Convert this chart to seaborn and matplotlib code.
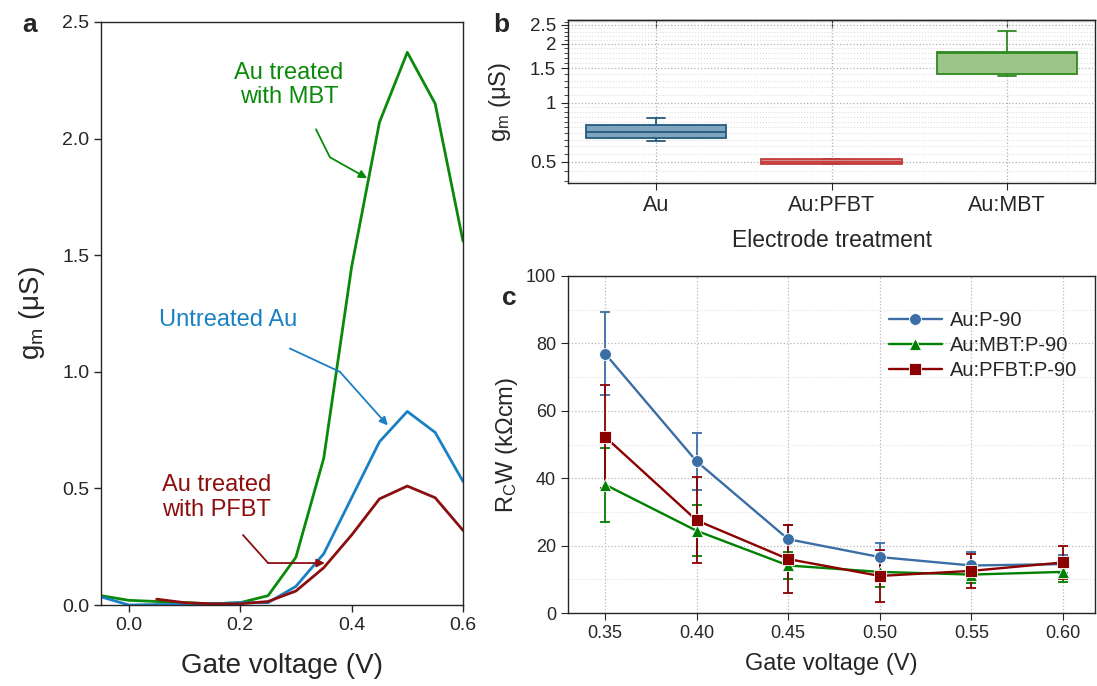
import numpy as np
import pandas as pd
import matplotlib
matplotlib.use("Agg")
import matplotlib.pyplot as plt
import seaborn as sns
from matplotlib.ticker import FixedLocator, NullFormatter

# ---------------- data ----------------
# panel a: transconductance vs gate voltage
gate_v = [-0.05, 0.0, 0.05, 0.10, 0.15, 0.20, 0.25, 0.30, 0.35, 0.40, 0.45, 0.50, 0.55, 0.60]
gm_mbt = [0.04, 0.02, 0.015, 0.01, 0.005, 0.01, 0.04, 0.205, 0.63, 1.45, 2.07, 2.37, 2.15, 1.56]
gm_untreated = [0.035, 0.0, 0.002, 0.003, 0.005, 0.01, 0.01, 0.08, 0.22, 0.46, 0.70, 0.83, 0.74, 0.53]
gate_v_pfbt = [0.05, 0.10, 0.15, 0.20, 0.25, 0.30, 0.35, 0.40, 0.45, 0.50, 0.55, 0.60]
gm_pfbt = [0.025, 0.01, 0.005, 0.005, 0.015, 0.06, 0.16, 0.30, 0.455, 0.51, 0.46, 0.32]

# panel b: box statistics (whisker low, q1, median, q3, whisker high)
treatments = ["Au", "Au:PFBT", "Au:MBT"]
box_au = [0.642, 0.66, 0.711, 0.772, 0.835]
box_pfbt = [0.487, 0.487, 0.50, 0.52, 0.52]
box_mbt = [1.37, 1.41, 1.80, 1.81, 2.34]

# panel c: contact resistance
vg_c = [0.35, 0.40, 0.45, 0.50, 0.55, 0.60]
rcw_p90 = [77.0, 45.0, 21.9, 16.6, 14.1, 14.5]
err_p90 = [12.3, 8.5, 4.3, 4.3, 4.0, 2.7]
rcw_mbt = [38.1, 24.4, 14.1, 12.2, 11.4, 12.2]
err_mbt = [11.0, 7.6, 4.0, 4.4, 2.5, 3.0]
rcw_pfbt = [52.3, 27.5, 16.0, 11.0, 12.5, 15.0]
err_pfbt = [15.3, 12.8, 10.1, 7.6, 5.0, 5.0]
series_c = ["Au:P-90", "Au:MBT:P-90", "Au:PFBT:P-90"]

# ---------------- style ----------------
sns.set_style("ticks")
plt.rcParams["font.family"] = ["Liberation Sans", "DejaVu Sans"]
plt.rcParams["mathtext.default"] = "regular"
plt.rcParams["axes.linewidth"] = 1.0

W, H = 1097, 686
fig = plt.figure(figsize=(W / 100, H / 100), dpi=100)

def ax_px(l, t, r, b):
    return fig.add_axes([l / W, 1 - b / H, (r - l) / W, (b - t) / H])

c_green_a = "#0a8a0a"
c_blue_a = "#1a80c4"
c_red_a = "#8b0f0f"

# ---------------- panel a ----------------
axa = ax_px(101, 22, 463, 605)
df_a = pd.concat([
    pd.DataFrame({"V": gate_v, "gm": gm_mbt, "s": "MBT"}),
    pd.DataFrame({"V": gate_v, "gm": gm_untreated, "s": "Au"}),
    pd.DataFrame({"V": gate_v_pfbt, "gm": gm_pfbt, "s": "PFBT"}),
])
sns.lineplot(data=df_a, x="V", y="gm", hue="s", estimator=None, sort=False,
             palette={"MBT": c_green_a, "Au": c_blue_a, "PFBT": c_red_a},
             linewidth=2.0, legend=False, ax=axa)
axa.set_xlim(-0.05, 0.6)
axa.set_ylim(0, 2.5)
axa.set_xticks([0.0, 0.2, 0.4, 0.6])
axa.set_xticklabels(["0.0", "0.2", "0.4", "0.6"])
axa.set_yticks([0, 0.5, 1.0, 1.5, 2.0, 2.5])
axa.set_yticklabels(["0.0", "0.5", "1.0", "1.5", "2.0", "2.5"])
axa.tick_params(labelsize=14, direction="out", length=5, width=1)
axa.set_xlabel("Gate voltage (V)", fontsize=20)
axa.set_ylabel(r"g$_\mathregular{m}$ ($\mathregular{\mu}$S)", fontsize=20)
axa.xaxis.set_label_coords(0.5, -0.082)
axa.yaxis.set_label_coords(-0.15, 0.5)
for s in axa.spines.values():
    s.set_visible(True)

def poly_arrow(ax, pts, color):
    xs = [p[0] for p in pts[:-1]]
    ys = [p[1] for p in pts[:-1]]
    ax.plot(xs, ys, color=color, lw=1.3)
    ax.annotate("", xy=pts[-1], xytext=pts[-2],
                arrowprops=dict(arrowstyle="-|>", color=color, lw=1.3,
                                mutation_scale=12, shrinkA=0, shrinkB=0))

axa.text(0.2875, 2.23, "Au treated\nwith MBT", color=c_green_a, fontsize=17,
         ha="center", va="center", linespacing=1.15)
poly_arrow(axa, [(0.336, 2.04), (0.361, 1.92), (0.428, 1.83)], c_green_a)
axa.text(0.178, 1.22, "Untreated Au", color=c_blue_a, fontsize=17, ha="center", va="center")
poly_arrow(axa, [(0.289, 1.10), (0.379, 1.00), (0.465, 0.77)], c_blue_a)
axa.text(0.158, 0.46, "Au treated\nwith PFBT", color=c_red_a, fontsize=17,
         ha="center", va="center", linespacing=1.15)
poly_arrow(axa, [(0.205, 0.30), (0.25, 0.18), (0.352, 0.18)], c_red_a)

# ---------------- panel b ----------------
axb = ax_px(568, 20, 1095, 183)
df_b = pd.DataFrame({
    "treat": np.repeat(treatments, 5),
    "gm": box_au + box_pfbt + box_mbt,
})
fills = {"Au": "#7ea4bf", "Au:PFBT": "#d98c8c", "Au:MBT": "#9dc58a"}
edges = {"Au": "#245b80", "Au:PFBT": "#c23b3b", "Au:MBT": "#2e8a22"}
axb.set_yscale("log")
for t in treatments:
    sns.boxplot(data=df_b[df_b.treat == t], x="treat", y="gm", order=treatments,
                color=fills[t], linecolor=edges[t], linewidth=1.3, width=0.8,
                saturation=1, showfliers=False, ax=axb)
# shorten the whisker caps
for ln in axb.lines:
    xd = np.asarray(ln.get_xdata(), dtype=float)
    yd = np.asarray(ln.get_ydata(), dtype=float)
    if len(xd) == 2 and np.isclose(yd[0], yd[1]) and (xd.max() - xd.min()) < 0.7:
        c = xd.mean()
        ln.set_xdata([c - 0.05, c + 0.05])
axb.set_xlim(-0.5, 2.5)
axb.set_ylim(0.39, 2.65)
axb.yaxis.set_major_locator(FixedLocator([0.5, 1, 1.5, 2, 2.5]))
axb.set_yticklabels(["0.5", "1", "1.5", "2", "2.5"])
minor = list(np.arange(0.40, 1.0, 0.05)) + list(np.arange(1.1, 2.65, 0.1))
axb.yaxis.set_minor_locator(FixedLocator(minor))
axb.yaxis.set_minor_formatter(NullFormatter())
axb.tick_params(axis="y", which="major", labelsize=13.5, direction="out", length=5)
axb.tick_params(axis="y", which="minor", direction="out", length=3)
axb.tick_params(axis="x", labelsize=15.5, direction="out", length=5)
secb = axb.secondary_xaxis("top")
secb.set_xticks([0, 1, 2])
secb.tick_params(direction="in", length=6, labeltop=False)
axb.grid(True, which="major", axis="both", linestyle=":", color="#b0b0b0", lw=0.9)
axb.grid(True, which="minor", axis="y", linestyle=":", color="#dddddd", lw=0.8)
axb.set_axisbelow(True)
axb.set_xlabel("Electrode treatment", fontsize=16.5)
axb.set_ylabel(r"g$_\mathregular{m}$ ($\mathregular{\mu}$S)", fontsize=17)
axb.xaxis.set_label_coords(0.5, -0.28)
axb.yaxis.set_label_coords(-0.105, 0.5)
for s in axb.spines.values():
    s.set_visible(True)

# ---------------- panel c ----------------
axc = ax_px(568, 276, 1095, 613)
cols_c = {"Au:P-90": "#3a6ea5", "Au:MBT:P-90": "#008000", "Au:PFBT:P-90": "#8b0000"}
marks_c = {"Au:P-90": "o", "Au:MBT:P-90": "^", "Au:PFBT:P-90": "s"}
df_c = pd.DataFrame({
    "V": vg_c * 3,
    "R": rcw_p90 + rcw_mbt + rcw_pfbt,
    "s": np.repeat(series_c, len(vg_c)),
})
for name, vals, errs in zip(series_c, [rcw_p90, rcw_mbt, rcw_pfbt], [err_p90, err_mbt, err_pfbt]):
    axc.errorbar(vg_c, vals, yerr=errs, fmt="none", ecolor=cols_c[name],
                 elinewidth=1.3, capsize=3.5, capthick=1.3, zorder=2)
sns.lineplot(data=df_c, x="V", y="R", hue="s", style="s", markers=marks_c,
             dashes=False, palette=cols_c, hue_order=series_c, style_order=series_c,
             linewidth=1.7, markersize=8.5, markeredgewidth=0.6, ax=axc, zorder=3)
axc.set_xlim(0.3298, 0.6175)
axc.set_ylim(0, 100)
axc.set_xticks(vg_c)
axc.set_xticklabels([f"{v:.2f}" for v in vg_c])
axc.set_yticks([0, 20, 40, 60, 80, 100])
axc.yaxis.set_minor_locator(FixedLocator([10, 30, 50, 70, 90]))
axc.tick_params(axis="both", which="major", labelsize=13, direction="out", length=5)
axc.tick_params(axis="y", which="minor", length=0)
axc.grid(True, which="major", linestyle=":", color="#b8b8b8", lw=0.9)
axc.grid(True, which="minor", axis="y", linestyle=":", color="#e2e2e2", lw=0.8)
axc.set_axisbelow(True)
axc.set_xlabel("Gate voltage (V)", fontsize=17)
axc.set_ylabel(r"R$_\mathregular{C}$W (k$\Omega$cm)", fontsize=17)
axc.xaxis.set_label_coords(0.5, -0.12)
axc.yaxis.set_label_coords(-0.092, 0.5)
leg = axc.legend(loc="upper right", bbox_to_anchor=(1.0, 0.95), frameon=False,
                 fontsize=14.5, handlelength=2.6, handletextpad=0.4, labelspacing=0.3)
leg.set_title(None)
for s in axc.spines.values():
    s.set_visible(True)

# panel letters
fig.text(30 / W, 1 - 25 / H, "a", fontsize=19, fontweight="bold", ha="center", va="center")
fig.text(501 / W, 1 - 25 / H, "b", fontsize=19, fontweight="bold", ha="center", va="center")
fig.text(509 / W, 1 - 298 / H, "c", fontsize=19, fontweight="bold", ha="center", va="center")

fig.savefig("out.png", dpi=100)
